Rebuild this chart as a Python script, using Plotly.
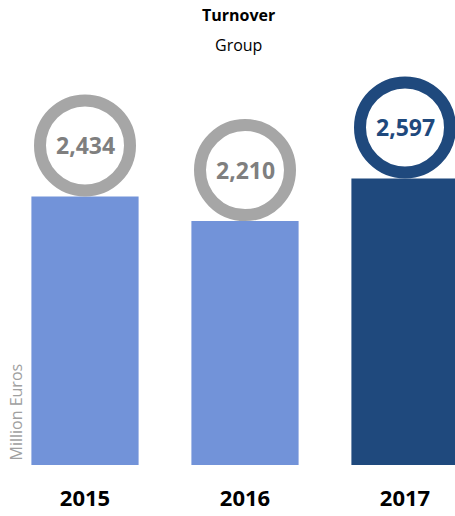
import plotly.graph_objects as go

years = ["2015", "2016", "2017"]
turnover = [2434, 2210, 2597]
labels = ["2,434", "2,210", "2,597"]
bar_colors = ["#7293D9", "#7293D9", "#1F497D"]
ring_colors = ["#A6A6A6", "#A6A6A6", "#1F497D"]
text_colors = ["#7F7F7F", "#7F7F7F", "#1F497D"]

idx = list(range(len(years)))

fig = go.Figure()
fig.add_trace(go.Bar(x=idx, y=turnover, marker=dict(color=bar_colors, line=dict(width=0)),
                     width=0.67, hoverinfo="skip"))

shapes = []
annotations = []
for i, v in enumerate(turnover):
    shapes.append(dict(type="circle", xref="x", yref="y", xsizemode="pixel", ysizemode="pixel",
                       xanchor=i, yanchor=v, x0=-45, x1=45, y0=6, y1=96,
                       line=dict(color=ring_colors[i], width=12), fillcolor="white"))
    annotations.append(dict(x=i, y=v, xref="x", yref="y", text=f"<b>{labels[i]}</b>",
                            showarrow=False, yshift=51,
                            font=dict(family="Open Sans", size=23, color=text_colors[i])))

annotations.append(dict(x=236/455, y=1, xref="paper", yref="paper", yanchor="top", xanchor="center",
                        text="<b>Turnover</b>", showarrow=False, yshift=58,
                        font=dict(family="Open Sans", size=16, color="black")))
annotations.append(dict(x=236/455, y=1, xref="paper", yref="paper", yanchor="top", xanchor="center",
                        text="Group", showarrow=False, yshift=28,
                        font=dict(family="Open Sans", size=16, color="black")))
annotations.append(dict(x=0, y=0, xref="paper", yref="paper", xanchor="center", yanchor="bottom",
                        text="Million Euros", textangle=-90, showarrow=False, xshift=10, yshift=2,
                        font=dict(family="Open Sans", size=16, color="#A0A0A0")))

fig.update_layout(
    width=455, height=516,
    margin=dict(l=5, r=0, t=60, b=51),
    paper_bgcolor="white", plot_bgcolor="white",
    showlegend=False,
    shapes=shapes, annotations=annotations,
    xaxis=dict(range=[-0.5, -0.5 + 450 / 160], tickvals=idx, ticktext=years,
               showgrid=False, zeroline=False, showline=False, ticks="",
               tickfont=dict(family="Open Sans", size=22, color="black", weight="bold"),
               ticklabelstandoff=18),
    yaxis=dict(range=[0, 3670], visible=False, showgrid=False, zeroline=False),
)

fig.write_html("out.html")
